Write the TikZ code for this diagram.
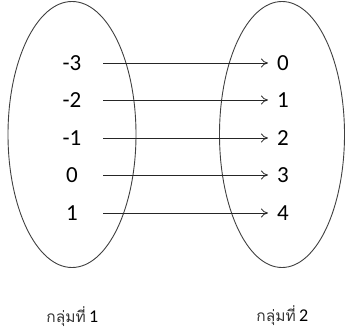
\documentclass[tikz,border=0pt]{standalone}
\usepackage{fontspec}
\setmainfont{Carlito}
\newfontfamily\thaifont[Script=Thai]{Loma}
\usetikzlibrary{arrows.meta}
\begin{document}
\begin{tikzpicture}[x=1pt,y=-1pt,
  set/.style={draw=black!75,line width=0.9pt},
  num/.style={font=\fontsize{23}{26}\selectfont,inner sep=0pt,anchor=center},
  map/.style={draw=black!85,line width=0.8pt,-{To[length=7pt,width=9pt]}},
  grp/.style={font=\fontsize{18}{22}\selectfont,inner sep=0pt,anchor=base west},
  thai/.style={font=\thaifont\fontsize{15.5}{18}\selectfont,text=black!80,inner sep=0pt,anchor=base east}]
\useasboundingbox (0,0) rectangle (345,331);
\draw[set] (72,134.5) ellipse [x radius=64, y radius=133];
\draw[set] (282,134.5) ellipse [x radius=62.5, y radius=133];
\foreach \n/\l/\r/\y in {a/-3/0/63, b/-2/1/100, c/-1/2/138, d/0/3/175, e/1/4/213}{
  \node[num] (L\n) at (72,\y) {\l};
  \node[num] (R\n) at (283,\y) {\r};
  \coordinate (S\n) at (103,\y);
  \coordinate (E\n) at (268,\y);
  \draw[map] (S\n) -- (E\n);
}
\node[grp] (g1) at (89,322) {1};
\node[thai] (t1) at ([xshift=-3pt]g1.base west) {กลุ่มที่};
\node[grp] (g2) at (299,321) {2};
\node[thai] (t2) at ([xshift=-3pt]g2.base west) {กลุ่มที่};
\end{tikzpicture}
\end{document}
